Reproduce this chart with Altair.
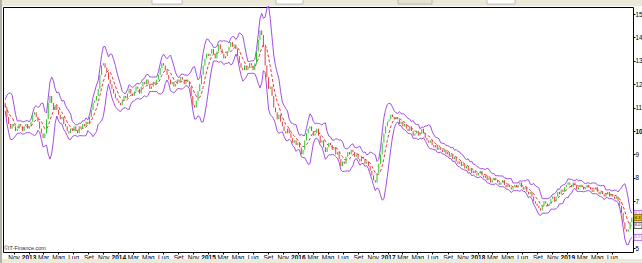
import altair as alt
import pandas as pd

# ---- weekly closes (Friday closes, from 21 Sep 2012) ----
close_2012 = [11.2, 11.0, 10.6, 10.3, 10.1, 10.3, 10.2, 10.0, 10.1, 10.3, 10.2, 10.0, 10.2, 10.3, 10.1]
close_2013 = [10.2, 10.4, 10.7, 10.8, 10.6, 10.4, 10.1, 9.9, 9.7, 9.9, 10.5, 11.2, 11.5, 11.2, 10.9, 11.1,
              10.9, 10.7, 10.5, 10.6, 10.3, 10.2, 10.0, 9.9, 10.1, 10.0, 10.2, 10.0, 9.9, 10.2, 10.1, 10.3,
              10.2, 10.4, 10.3, 10.6, 10.9, 11.2, 11.3, 11.5, 11.8, 12.4, 12.8, 12.9, 12.7, 12.5, 12.2, 12.0,
              11.8, 11.6, 11.4, 11.3]
close_2014 = [11.2, 11.1, 11.3, 11.5, 11.4, 11.6, 11.8, 11.6, 11.5, 11.7, 11.9, 11.8, 11.6, 11.9, 12.1, 12.0,
              12.2, 12.0, 11.8, 11.9, 12.1, 12.0, 12.2, 12.4, 12.7, 12.9, 12.8, 12.6, 12.4, 12.2, 12.0, 12.1,
              11.9, 12.0, 12.2, 12.1, 12.3, 12.2, 12.0, 12.2, 12.1, 11.9, 11.5, 11.1, 11.0, 11.3, 11.7, 12.0,
              12.4, 12.8, 13.1, 13.3]
close_2015 = [13.2, 13.3, 13.5, 13.3, 13.1, 13.4, 13.7, 13.5, 13.3, 13.1, 13.2, 13.4, 13.6, 13.8, 13.6, 13.7,
              13.5, 13.2, 12.9, 12.7, 12.6, 12.8, 12.6, 12.7, 12.9, 12.8, 12.6, 12.9, 13.4, 13.9, 14.3, 14.1,
              13.6, 12.8, 12.3, 11.8, 11.9, 11.5, 11.0, 10.8, 10.5, 10.7, 10.4, 10.2, 10.0, 9.9, 10.1, 9.9,
              9.7, 9.5, 9.6, 9.4]
close_2016 = [9.5, 9.3, 9.0, 9.2, 9.6, 9.9, 10.1, 10.2, 10.0, 9.8, 9.9, 10.1, 9.8, 9.5, 9.6, 9.3,
              9.1, 9.3, 9.5, 9.4, 9.2, 9.3, 9.0, 9.1, 8.8, 8.5, 8.7, 8.6, 8.9, 9.1, 9.0, 9.2,
              9.1, 8.9, 9.0, 8.8, 8.7, 8.9, 8.8, 8.6, 8.7, 8.5, 8.3, 8.1, 7.9, 7.8, 8.2, 8.6,
              9.0, 9.5, 9.9, 10.2, 10.4]
close_2017 = [10.5, 10.7, 10.6, 10.5, 10.6, 10.5, 10.3, 10.4, 10.2, 10.3, 10.1, 10.0, 10.2, 10.0, 9.8, 9.9,
              10.0, 9.8, 9.9, 10.1, 9.9, 9.7, 9.6, 9.5, 9.6, 9.4, 9.3, 9.4, 9.2, 9.3, 9.2, 9.1,
              9.2, 9.0, 9.1, 8.9, 9.0, 8.8, 8.9, 8.7, 8.6, 8.7, 8.5, 8.6, 8.4, 8.5, 8.3, 8.4,
              8.2, 8.3, 8.2, 8.1]
close_2018 = [8.2, 8.3, 8.1, 8.0, 8.1, 7.9, 8.0, 7.8, 7.9, 8.0, 7.9, 7.8, 7.7, 7.8, 7.9, 7.7,
              7.6, 7.7, 7.6, 7.5, 7.6, 7.7, 7.6, 7.7, 7.8, 7.6, 7.5, 7.6, 7.4, 7.3, 7.4, 7.2,
              7.0, 6.9, 6.8, 6.7, 6.6, 6.8, 7.0, 6.9, 6.8, 6.9, 7.1, 7.2, 7.0, 7.2, 7.4, 7.3,
              7.5, 7.4, 7.6, 7.7]
close_2019 = [7.8, 7.7, 7.6, 7.8, 7.7, 7.5, 7.6, 7.7, 7.6, 7.5, 7.6, 7.7, 7.6, 7.5, 7.4, 7.5,
              7.6, 7.4, 7.3, 7.4, 7.3, 7.2, 7.3, 7.4, 7.2, 7.3, 7.2, 7.1, 7.2, 7.0, 6.8, 6.5,
              6.1, 5.8, 5.7, 5.8, 6.1, 6.3]

closes = (close_2012 + close_2013 + close_2014 + close_2015 + close_2016
          + close_2017 + close_2018 + close_2019)
first_week = "2012-09-21"

# axis labels
months_it = ["Gen", "Feb", "Mar", "Apr", "Mag", "Giu", "Lug", "Ago", "Set", "Ott", "Nov", "Dic"]
tick_months = [(2012, 11)] + [(y, m) for y in range(2013, 2020) for m in (1, 3, 5, 7, 9, 11)
                              if (y, m) <= (2019, 7)]
y_ticks = [5, 7, 8, 9, 10, 11, 12, 13, 14, 15]

# ---- style ----
BB_N = 6
BB_K = 2.4
PURPLE = "#a24fe6"
RED = "#e8393f"
GREEN = "#2ac22a"
FONT = "Liberation Sans"
W, H = 630, 245

df = pd.DataFrame({"date": pd.date_range(first_week, periods=len(closes), freq="7D"),
                   "close": closes})
df["open"] = df["close"].shift(1).fillna(df["close"])
roll = df["close"].rolling(BB_N, min_periods=2)
df["mid"] = roll.mean()
df["sd"] = roll.std(ddof=0)
df["upper"] = df["mid"] + BB_K * df["sd"]
df["lower"] = df["mid"] - BB_K * df["sd"]
df["date"] = df["date"].dt.strftime("%Y-%m-%d")

x_scale = alt.Scale(domain=[alt.DateTime(year=2012, month=9, date=19),
                            alt.DateTime(year=2019, month=9, date=25)])
y_scale = alt.Scale(domain=[4.83, 15.30], nice=False, zero=False)

label_expr = ("month(datum.value) == 0 ? timeFormat(datum.value, '%Y') : "
              + str(months_it).replace('"', "'") + "[month(datum.value)]")
x_axis = alt.Axis(values=[alt.DateTime(year=y, month=m, date=1) for y, m in tick_months],
                  labelExpr=label_expr,
                  labelFontWeight={"condition": {"test": "month(datum.value) == 0", "value": "bold"},
                                   "value": "normal"},
                  tickSize=2, tickColor="#000", labelPadding=0, labelFontSize=6.5, labelFont=FONT,
                  labelColor="#000", domain=False, grid=False, title=None,
                  labelOverlap=False, labelFlush=False, labelBound=False)
y_axis = alt.Axis(orient="right", values=y_ticks, tickSize=2, tickColor="#000", labelPadding=0,
                  labelFontSize=6.3, labelFont=FONT, labelColor="#000", domain=False, grid=False,
                  title=None, labelOverlap=False, labelFlush=False, labelBound=False,
                  labelFontWeight={"condition": {"test": "datum.value == 10", "value": "bold"},
                                   "value": "normal"})


def X():
    return alt.X("date:T", scale=x_scale, axis=x_axis, title=None)


def Y(field):
    return alt.Y(field, scale=y_scale, axis=y_axis, title=None)


base = alt.Chart(df)
upper = base.mark_line(color=PURPLE, strokeWidth=1).encode(x=X(), y=Y("upper:Q"))
lower = base.mark_line(color=PURPLE, strokeWidth=1).encode(x=X(), y=Y("lower:Q"))
mid = base.mark_line(color=RED, strokeWidth=1, strokeDash=[3, 2]).encode(x=X(), y=Y("mid:Q"))
candles = base.mark_rule(strokeWidth=1).encode(
    x=X(), y=Y("open:Q"), y2="close:Q",
    color=alt.condition("datum.close >= datum.open", alt.value(GREEN), alt.value(RED)))

# last-value price boxes at the right edge
last = df.iloc[-1]
box_df = pd.DataFrame({
    "v": [last["upper"], last["close"], last["mid"], last["lower"]],
    "fill": ["#ffffff", "#f2c200", "#ffffff", "#ffffff"],
    "stroke": [PURPLE, "#7a5a00", "#333333", PURPLE],
    "tcol": [PURPLE, "#000000", "#000000", PURPLE],
})
box_df["label"] = box_df["v"].map(lambda v: f"{v:.1f}")
boxes = alt.Chart(box_df).transform_calculate(
    top="datum.v + 0.13", bot="datum.v - 0.13"
).mark_rect(strokeWidth=0.8, clip=False).encode(
    x=alt.value(W + 1), x2=alt.value(W + 9),
    y=Y("top:Q"), y2="bot:Q",
    fill=alt.Fill("fill:N", scale=None), stroke=alt.Stroke("stroke:N", scale=None))
box_text = alt.Chart(box_df).mark_text(fontSize=4, font=FONT, align="left", baseline="middle",
                                       clip=False).encode(
    x=alt.value(W + 2), y=Y("v:Q"), text="label:N",
    color=alt.Color("tcol:N", scale=None))

# window chrome (toolbar / borders) and copyright text
one = pd.DataFrame({"a": [0]})
chrome_rects = pd.DataFrame({
    "x": [-3, -3, -3], "x2": [W + 9, -1, W + 9],
    "y": [-7, -7, H + 7], "y2": [-1, H + 11, H + 11],
})
chrome = alt.Chart(chrome_rects).mark_rect(color="#ece9d8", clip=False).encode(
    x=alt.X("x:Q", scale=None), x2="x2:Q", y=alt.Y("y:Q", scale=None), y2="y2:Q")
widgets_df = pd.DataFrame({
    "x": [149, 273, 395, 484], "x2": [179, 300, 429, 512],
    "fill": ["#ffffff", "#ffffff", "#e6e2d2", "#ffffff"],
})
widgets = alt.Chart(widgets_df).mark_rect(stroke="#9a9a9a", strokeWidth=0.6, clip=False).encode(
    x=alt.X("x:Q", scale=None), x2="x2:Q", y=alt.value(-8), y2=alt.value(-3),
    fill=alt.Fill("fill:N", scale=None))
left_line = alt.Chart(one).mark_rule(color="#7a7a7a", strokeWidth=1, clip=False).encode(
    x=alt.value(-2), y=alt.value(-7), y2=alt.value(H + 11))
copyright_txt = alt.Chart(one).mark_text(text="\u00a9IT-Finance.com", fontSize=5.5, font=FONT,
                                         align="left", baseline="middle", color="#333").encode(
    x=alt.value(1), y=alt.value(H - 4))

chart = alt.layer(upper, lower, mid, candles, boxes, box_text, chrome, widgets, left_line,
                  copyright_txt).resolve_scale(fill="independent", stroke="independent",
                                               color="independent").properties(
    width=W, height=H,
    autosize=alt.AutoSizeParams(type="none"),
    padding={"left": 3, "top": 7, "right": 9, "bottom": 11},
    background="white",
).configure_view(stroke="#000", strokeWidth=1, fill="white").configure_axis(
    labelOverlap=False, labelFlush=False)

chart.save("out.html", embed_options={"renderer": "svg", "actions": False})
